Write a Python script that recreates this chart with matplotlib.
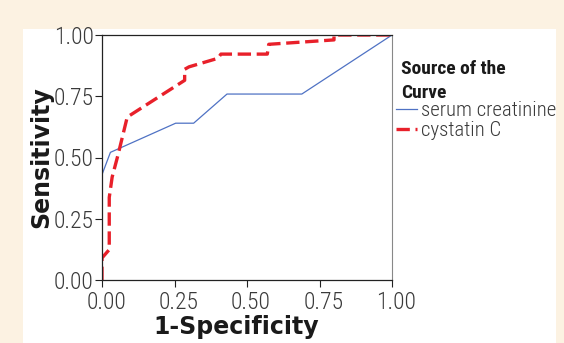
import matplotlib
matplotlib.use("Agg")
import matplotlib.pyplot as plt
import matplotlib.transforms as mtransforms
from matplotlib.patches import Rectangle

# ROC curve data
creat_fpr = [0.0, 0.029, 0.254, 0.316, 0.431, 0.689, 1.0]
creat_tpr = [0.43, 0.521, 0.640, 0.640, 0.759, 0.759, 1.0]

cyst_fpr = [0.0, 0.0, 0.025, 0.025, 0.035, 0.056, 0.087, 0.285, 0.285, 0.30,
            0.40, 0.41, 0.57, 0.575, 0.80, 0.80, 1.0]
cyst_tpr = [0.0, 0.09, 0.124, 0.337, 0.42, 0.514, 0.665, 0.815, 0.86, 0.87,
            0.905, 0.922, 0.922, 0.962, 0.98, 1.0, 1.0]

series_names = ["serum creatinine", "cystatin C"]
ticks = [0.0, 0.25, 0.5, 0.75, 1.0]
tick_labels = ["0.00", "0.25", "0.50", "0.75", "1.00"]

COND = ["Roboto Condensed", "DejaVu Sans"]

W, H = 564, 343
fig = plt.figure(figsize=(W / 100, H / 100), dpi=100)
fig.patch.set_facecolor("#fcf2e2")
# white inner panel
fig.patches.append(Rectangle((23 / W, 0), (556 - 23) / W, (H - 29) / H,
                             transform=fig.transFigure, facecolor="white",
                             edgecolor="none", zorder=-10))

ax = fig.add_axes([102 / W, 1 - 280 / H, 290 / W, 245 / H])
ax.set_facecolor("white")

ax.plot(creat_fpr, creat_tpr, color="#4f72c4", lw=0.9, label=series_names[0])
ax.plot(cyst_fpr, cyst_tpr, color="#e8202a", lw=2.4, ls=(0, (4.0, 1.7)),
        label=series_names[1])

ax.set_xlim(0, 1)
ax.set_ylim(0, 1)
ax.set_xticks(ticks)
ax.set_yticks(ticks)
tick_font = dict(family=COND, size=17, weight=300)
ax.set_xticklabels(tick_labels, fontdict=tick_font, color="#3a3a3a")
ax.set_yticklabels(tick_labels, fontdict=tick_font, color="#3a3a3a")
ax.tick_params(length=5, width=0.8, color="#222222")
ax.tick_params(axis="x", pad=3)
ax.tick_params(axis="y", pad=1)

# x tick labels sit a little to the right of their ticks in the original
shift = mtransforms.ScaledTranslation(4 / 100, 0, fig.dpi_scale_trans)
for lbl in ax.get_xticklabels():
    lbl.set_transform(lbl.get_transform() + shift)

for side in ["left", "bottom", "top"]:
    ax.spines[side].set_color("#222222")
    ax.spines[side].set_linewidth(0.9)
ax.spines["right"].set_color("#888888")

ax.set_xlabel("1-Specificity", family="DejaVu Sans", fontsize=17,
              fontweight="bold", va="center", color="#1a1a1a")
ax.xaxis.set_label_coords((236 - 102) / 290, (280 - 327) / 245)
ax.set_ylabel("Sensitivity", family="DejaVu Sans", fontsize=17,
              fontweight="bold", va="center", color="#1a1a1a")
ax.yaxis.set_label_coords((41 - 102) / 290, (280 - 157) / 245)

fig.text(401 / W, 1 - 60 / H, "Source of the\nCurve", family=COND,
         fontsize=14, fontweight="bold", va="top", ha="left",
         linespacing=1.45, color="#1a1a1a")

leg = ax.legend(loc="upper left", bbox_to_anchor=(396 / W, 1 - 101 / H),
                bbox_transform=fig.transFigure, frameon=False,
                prop=dict(family=COND, size=15, weight=300),
                handlelength=1.0, handletextpad=0.2, labelspacing=0.05,
                borderaxespad=0, borderpad=0)
for t in leg.get_texts():
    t.set_color("#3a3a3a")

fig.savefig("out.png", dpi=100, facecolor=fig.get_facecolor())
